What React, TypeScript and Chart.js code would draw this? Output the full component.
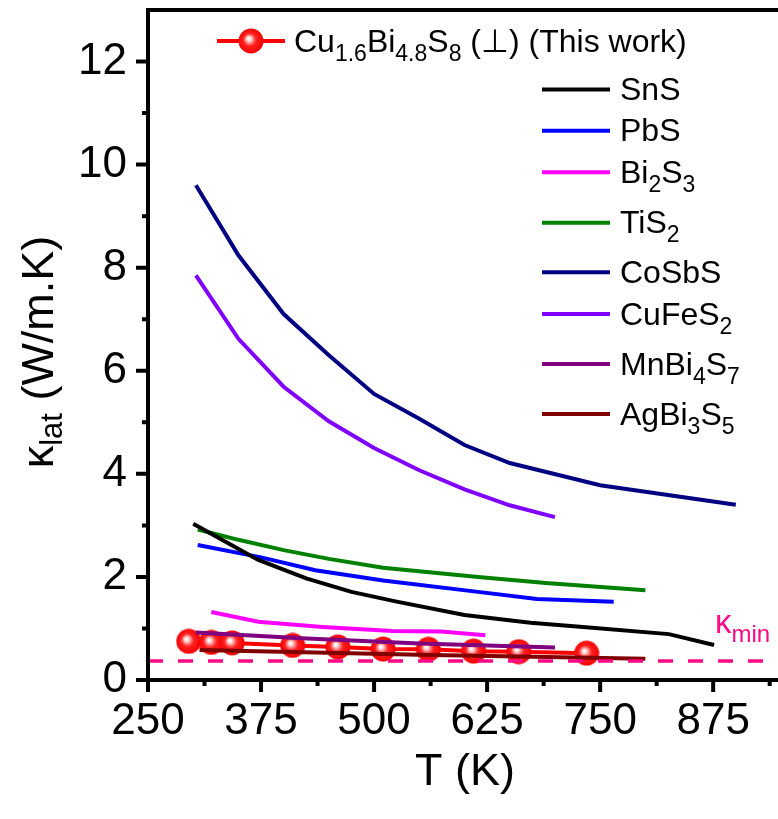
import React, { useEffect, useRef } from 'react';
import { Chart, registerables } from 'chart.js';
Chart.register(...registerables);

// ---------- data ----------
const thisWorkT = [295, 320, 343, 410, 460, 510, 560, 610, 660, 735];
const thisWorkK = [0.75, 0.73, 0.72, 0.67, 0.64, 0.6, 0.595, 0.56, 0.55, 0.52];

const snsT = [300, 372, 425, 475, 525, 600, 673, 731, 826, 876];
const snsK = [3.03, 2.33, 1.97, 1.71, 1.52, 1.26, 1.11, 1.03, 0.89, 0.68];

const pbsT = [305, 375, 435, 510, 615, 680, 765];
const pbsK = [2.62, 2.38, 2.13, 1.93, 1.71, 1.57, 1.52];

const bi2s3T = [320, 372, 443, 520, 574, 623];
const bi2s3K = [1.32, 1.13, 1.03, 0.95, 0.94, 0.87];

const tis2T = [305, 350, 400, 450, 510, 615, 690, 800];
const tis2K = [2.92, 2.72, 2.52, 2.35, 2.18, 2.0, 1.88, 1.74];

const cosbsT = [303, 350, 400, 450, 500, 550, 600, 650, 750, 900];
const cosbsK = [9.6, 8.24, 7.1, 6.3, 5.55, 5.07, 4.56, 4.21, 3.78, 3.4];

const cufes2T = [303, 350, 400, 450, 500, 550, 600, 650, 700];
const cufes2K = [7.85, 6.62, 5.69, 5.02, 4.5, 4.07, 3.7, 3.39, 3.16];

const mnbi4s7T = [303, 420, 550, 700];
const mnbi4s7K = [0.92, 0.81, 0.71, 0.63];

const agbi3s5T = [307, 550, 800];
const agbi3s5K = [0.58, 0.49, 0.41];

const kappaMinT = [250, 950];
const kappaMinK = [0.37, 0.37];

const xMajorTicks = [250, 375, 500, 625, 750, 875];
const xMinorTicks = [312.5, 437.5, 562.5, 687.5, 812.5, 937.5];
const yMajorTicks = [0, 2, 4, 6, 8, 10, 12];
const yMinorTicks = [1, 3, 5, 7, 9, 11];

// ---------- styling ----------
const FONT = '"Liberation Sans", Arial, sans-serif';
const PINK = '#ff0a84';

type Part = { t: string; sub?: boolean };

const legendLabels: Part[][] = [
  [{ t: 'Cu' }, { t: '1.6', sub: true }, { t: 'Bi' }, { t: '4.8', sub: true }, { t: 'S' }, { t: '8', sub: true }, { t: ' (\u22A5) (This work)' }],
  [{ t: 'SnS' }],
  [{ t: 'PbS' }],
  [{ t: 'Bi' }, { t: '2', sub: true }, { t: 'S' }, { t: '3', sub: true }],
  [{ t: 'TiS' }, { t: '2', sub: true }],
  [{ t: 'CoSbS' }],
  [{ t: 'CuFeS' }, { t: '2', sub: true }],
  [{ t: 'MnBi' }, { t: '4', sub: true }, { t: 'S' }, { t: '7', sub: true }],
  [{ t: 'AgBi' }, { t: '3', sub: true }, { t: 'S' }, { t: '5', sub: true }],
];
const legendColors = ['#ff0000', '#000000', '#0000ff', '#ff00ff', '#008000', '#000080', '#8000ff', '#800080', '#800000'];
const legendRowY = [41, 89.5, 130.7, 172.3, 222.7, 272.3, 314, 364, 414];

function pts(xs: number[], ys: number[]) {
  return xs.map((x, i) => ({ x, y: ys[i] }));
}

function makeMarker(): HTMLCanvasElement {
  const c = document.createElement('canvas');
  c.width = 26;
  c.height = 26;
  const g = c.getContext('2d')!;
  const grad = g.createRadialGradient(10.5, 10.5, 0, 13, 13, 13);
  grad.addColorStop(0, '#ffffff');
  grad.addColorStop(0.12, '#fff2f2');
  grad.addColorStop(0.3, '#ff8a8a');
  grad.addColorStop(0.5, '#ff2020');
  grad.addColorStop(1, '#f20000');
  g.fillStyle = grad;
  g.beginPath();
  g.arc(13, 13, 12.5, 0, Math.PI * 2);
  g.fill();
  return c;
}

function richWidth(ctx: CanvasRenderingContext2D, parts: Part[], size: number, subSize: number) {
  let w = 0;
  for (const p of parts) {
    ctx.font = `${p.sub ? subSize : size}px ${FONT}`;
    w += ctx.measureText(p.t).width;
  }
  return w;
}

function drawRich(ctx: CanvasRenderingContext2D, parts: Part[], x: number, y: number, size: number, subSize: number, subDy: number) {
  let cx = x;
  ctx.textBaseline = 'alphabetic';
  ctx.textAlign = 'left';
  for (const p of parts) {
    ctx.font = `${p.sub ? subSize : size}px ${FONT}`;
    ctx.fillText(p.t, cx, p.sub ? y + subDy : y);
    cx += ctx.measureText(p.t).width;
  }
}

export default function App() {
  const ref = useRef<HTMLCanvasElement>(null);

  useEffect(() => {
    const canvas = ref.current!;
    const marker = makeMarker();

    const decor = {
      id: 'decor',
      afterDraw(chart: any) {
        const ctx: CanvasRenderingContext2D = chart.ctx;
        const xs = chart.scales.x;
        const ys = chart.scales.y;
        const { left, right, top, bottom } = chart.chartArea;
        ctx.save();
        ctx.strokeStyle = '#000';
        ctx.lineWidth = 4;
        ctx.lineCap = 'butt';
        ctx.beginPath();
        ctx.moveTo(left, bottom + 2);
        ctx.lineTo(left, top - 2);
        ctx.moveTo(left - 2, top);
        ctx.lineTo(right, top);
        ctx.moveTo(left - 2, bottom);
        ctx.lineTo(right, bottom);
        for (const v of xMajorTicks) {
          const px = xs.getPixelForValue(v);
          ctx.moveTo(px, bottom);
          ctx.lineTo(px, bottom + 12);
        }
        for (const v of xMinorTicks) {
          const px = xs.getPixelForValue(v);
          ctx.moveTo(px, bottom);
          ctx.lineTo(px, bottom + 6);
        }
        for (const v of yMajorTicks) {
          const py = ys.getPixelForValue(v);
          ctx.moveTo(left, py);
          ctx.lineTo(left - 12, py);
        }
        for (const v of yMinorTicks) {
          const py = ys.getPixelForValue(v);
          ctx.moveTo(left, py);
          ctx.lineTo(left - 6, py);
        }
        ctx.stroke();

        // legend
        legendLabels.forEach((parts, i) => {
          const y = legendRowY[i];
          ctx.strokeStyle = legendColors[i];
          ctx.lineWidth = 4;
          ctx.beginPath();
          if (i === 0) {
            ctx.moveTo(217, y);
            ctx.lineTo(285, y);
            ctx.stroke();
            ctx.drawImage(marker, 251 - 13, y - 13);
            ctx.fillStyle = '#000';
            drawRich(ctx, parts, 294, y + 11, 32, 23, 9);
          } else {
            ctx.moveTo(542, y);
            ctx.lineTo(610, y);
            ctx.stroke();
            ctx.fillStyle = '#000';
            drawRich(ctx, parts, 620, y + 10.5, 32, 23, 9);
          }
        });

        // kappa_min label
        ctx.fillStyle = PINK;
        drawRich(ctx, [{ t: '\u03BA' }, { t: 'min', sub: true }], 715, 633, 33, 24, 9);

        // axis titles
        ctx.fillStyle = '#000';
        const xt: Part[] = [{ t: 'T (K)' }];
        const xw = richWidth(ctx, xt, 45, 30);
        drawRich(ctx, xt, 465 - xw / 2, 785, 45, 30, 10);

        const yt: Part[] = [{ t: '\u03BA' }, { t: 'lat', sub: true }, { t: ' (W/m.K)' }];
        ctx.save();
        ctx.translate(53, 352);
        ctx.rotate(-Math.PI / 2);
        const yw = richWidth(ctx, yt, 45, 31);
        drawRich(ctx, yt, -yw / 2, 0, 45, 31, 9);
        ctx.restore();

        ctx.restore();
      },
    };

    const lineDs = (label: string, xsArr: number[], ysArr: number[], color: string, order: number) => ({
      label,
      data: pts(xsArr, ysArr),
      borderColor: color,
      backgroundColor: color,
      borderWidth: 4,
      pointRadius: 0,
      tension: 0,
      order,
    });

    const chart = new Chart(canvas, {
      type: 'line',
      data: {
        datasets: [
          {
            label: 'kappa_min',
            data: pts(kappaMinT, kappaMinK),
            borderColor: PINK,
            borderWidth: 3.5,
            borderDash: [15, 15],
            pointRadius: 0,
            order: 0,
          },
          lineDs('AgBi3S5', agbi3s5T, agbi3s5K, '#800000', 1),
          lineDs('MnBi4S7', mnbi4s7T, mnbi4s7K, '#800080', 2),
          lineDs('SnS', snsT, snsK, '#000000', 3),
          lineDs('PbS', pbsT, pbsK, '#0000ff', 3),
          lineDs('Bi2S3', bi2s3T, bi2s3K, '#ff00ff', 3),
          lineDs('TiS2', tis2T, tis2K, '#008000', 3),
          lineDs('CoSbS', cosbsT, cosbsK, '#000080', 3),
          lineDs('CuFeS2', cufes2T, cufes2K, '#8000ff', 3),
          {
            label: 'Cu1.6Bi4.8S8 (This work)',
            data: pts(thisWorkT, thisWorkK),
            borderColor: '#ff0000',
            backgroundColor: '#ff0000',
            borderWidth: 4,
            pointStyle: marker as any,
            pointRadius: 12,
            tension: 0,
            order: 10,
          },
        ],
      },
      options: {
        responsive: false,
        animation: false,
        layout: { autoPadding: false, padding: { left: 0, right: 9, top: 10, bottom: 0 } },
        plugins: { legend: { display: false }, tooltip: { enabled: false } },
        scales: {
          x: {
            type: 'linear',
            min: 250,
            max: 950,
            grid: { display: false, drawTicks: false, tickLength: 0 },
            border: { display: false },
            afterBuildTicks: (s: any) => {
              s.ticks = xMajorTicks.map((v) => ({ value: v }));
            },
            afterFit: (s: any) => {
              s.height = 139;
              s.paddingLeft = 0;
              s.paddingRight = 0;
            },
            ticks: {
              padding: 15,
              color: '#000',
              font: { family: FONT, size: 44 },
              maxRotation: 0,
              autoSkip: false,
            },
          },
          y: {
            type: 'linear',
            min: 0,
            max: 13,
            grid: { display: false, drawTicks: false, tickLength: 0 },
            border: { display: false },
            afterBuildTicks: (s: any) => {
              s.ticks = yMajorTicks.map((v) => ({ value: v }));
            },
            afterFit: (s: any) => {
              s.width = 148;
              s.paddingTop = 0;
              s.paddingBottom = 0;
            },
            ticks: {
              padding: 21,
              color: '#000',
              font: { family: FONT, size: 44 },
              autoSkip: false,
            },
          },
        },
      },
      plugins: [decor],
    });

    return () => chart.destroy();
  }, []);

  return (
    <div style={{ position: 'absolute', left: 0, top: 0, width: 778, height: 819, overflow: 'hidden', background: '#fff' }}>
      <canvas ref={ref} width={790} height={819} style={{ display: 'block', width: 790, height: 819 }} />
    </div>
  );
}
